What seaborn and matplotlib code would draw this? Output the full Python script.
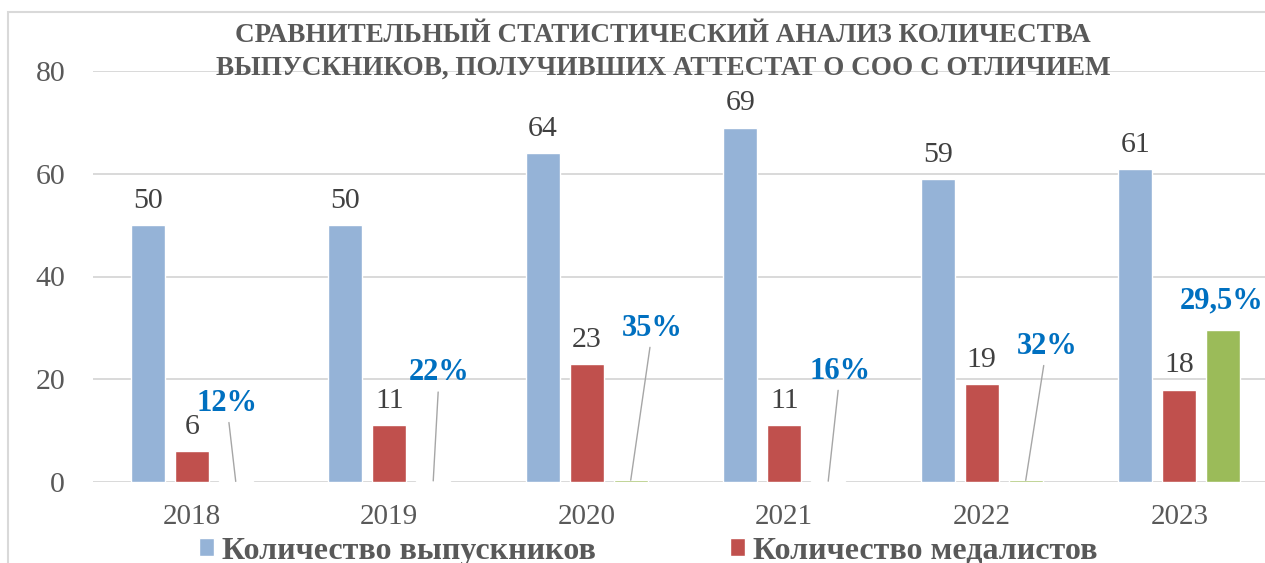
import numpy as np
import pandas as pd
import matplotlib
matplotlib.use("Agg")
import matplotlib.pyplot as plt
import seaborn as sns
from matplotlib.patches import Rectangle, Patch

# ---- data ----
years = ["2018", "2019", "2020", "2021", "2022", "2023"]
graduates = [50, 50, 64, 69, 59, 61]
medalists = [6, 11, 23, 11, 19, 18]
share = [0.12, 0.22, 0.35, 0.16, 0.32, 29.5]
share_labels = ["12%", "22%", "35%", "16%", "32%", "29,5%"]
series_names = ["Количество выпускников", "Количество медалистов", "Доля"]
title = "СРАВНИТЕЛЬНЫЙ СТАТИСТИЧЕСКИЙ АНАЛИЗ КОЛИЧЕСТВА\nВЫПУСКНИКОВ, ПОЛУЧИВШИХ АТТЕСТАТ О СОО С ОТЛИЧИЕМ"

# ---- style ----
colors = ["#95B3D7", "#C0504D", "#9BBB59"]
text_gray = "#595959"
label_gray = "#404040"
pct_blue = "#0070C0"
grid_gray = "#D9D9D9"
# pixel offsets of percentage labels from the top of their bar
pct_offsets = [(-9, 78), (6, 108), (22, 152), (12, 110), (21, 134), (-2, 30)]
pct_leader = [True, True, True, True, True, False]

sns.set_theme(style="white")
plt.rcParams["font.family"] = ["Liberation Serif", "DejaVu Serif"]

df = pd.DataFrame({
    "year": years * 3,
    "value": graduates + medalists + share,
    "series": [series_names[0]] * 6 + [series_names[1]] * 6 + [series_names[2]] * 6,
})

W, H = 1265, 563
fig = plt.figure(figsize=(W / 100, H / 100), dpi=100)
fig.patch.set_facecolor("white")

# outer chart border (extends past the cropped right/bottom edges)
fig.patches.append(Rectangle((8 / W, -0.1), 1.2, 1 - 12 / H + 0.1,
                             transform=fig.transFigure, fill=False,
                             edgecolor="#D9D9D9", linewidth=1.5))

ax = fig.add_axes([93 / W, (H - 482) / H, (1278 - 93) / W, (482 - 71) / H])
sns.barplot(data=df, x="year", y="value", hue="series", hue_order=series_names,
            palette=colors, saturation=1, width=0.668, gap=0.227,
            legend=False, ax=ax)

ax.set_ylim(0, 80)
ax.set_yticks([0, 20, 40, 60, 80])
ax.set_xlabel("")
ax.set_ylabel("")
ax.grid(axis="y", color=grid_gray, linewidth=1.4)
ax.set_axisbelow(True)
for s in ax.spines.values():
    s.set_visible(False)
ax.tick_params(axis="y", length=0, pad=20, labelsize=21.5, labelcolor=text_gray)
ax.tick_params(axis="x", length=0, pad=16, labelsize=21, labelcolor=text_gray)

# value labels for the two count series
for cont in ax.containers[:2]:
    ax.bar_label(cont, fmt="%g", padding=8, fontsize=21.5, color=label_gray)

# percentage labels with leader lines
for bar, lab, (dx, dy), lead in zip(ax.containers[2], share_labels, pct_offsets, pct_leader):
    xc = bar.get_x() + bar.get_width() / 2
    yt = bar.get_height()
    ax.annotate(lab, xy=(xc, yt), xytext=(dx, dy), textcoords="offset pixels",
                ha="center", va="center", fontsize=22, fontweight="bold",
                color=pct_blue, annotation_clip=False,
                arrowprops=dict(arrowstyle="-", color="#A6A6A6", lw=1.0,
                                shrinkA=1, shrinkB=0) if lead else None)

fig.text(663 / W, 1 - 52 / H, title, ha="center", va="center",
         fontsize=19.5, fontweight="bold", color=text_gray, linespacing=1.4)

handles = [Patch(facecolor=colors[0]), Patch(facecolor=colors[1])]
fig.legend(handles, series_names[:2], loc="center left",
           bbox_to_anchor=(199 / W, 12 / H), ncol=2, frameon=False,
           prop={"weight": "bold", "size": 23}, labelcolor=text_gray,
           handlelength=0.47, handleheight=0.5, handletextpad=0.25,
           columnspacing=4.2, borderpad=0, borderaxespad=0)

fig.savefig("out.png", dpi=100, facecolor="white")
